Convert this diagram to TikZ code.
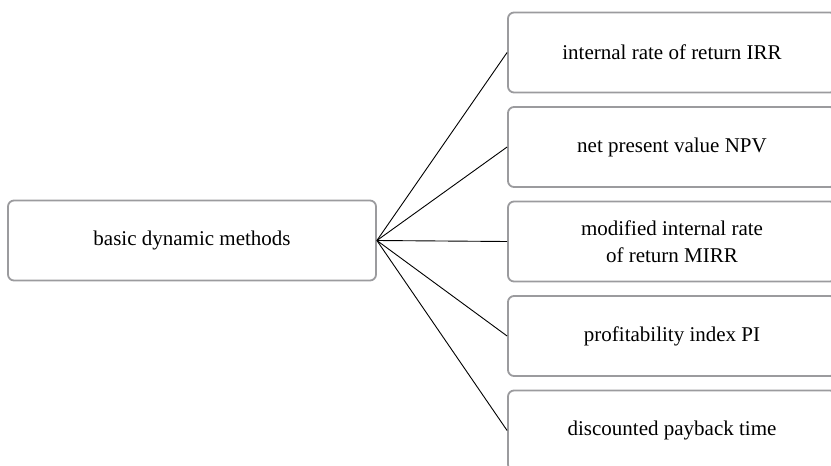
\documentclass[tikz,border=0pt]{standalone}
\usepackage{fontspec}
\setmainfont{Liberation Serif}
\usetikzlibrary{positioning}

\definecolor{boxgray}{RGB}{155,155,158}
\tikzset{
  methodbox/.style={draw=boxgray, line width=1.8pt, rounded corners=6pt,
    minimum width=328pt, minimum height=80pt, align=center,
    font=\fontsize{21}{27}\selectfont},
  rootbox/.style={methodbox, minimum width=368pt},
  branch/.style={line width=0.9pt}
}

\begin{document}
\begin{tikzpicture}[x=1pt,y=1pt]
    % page frame, boxes run over the right and lower edge
    \useasboundingbox (0,0) rectangle (831,-466);
    \clip (0,0) rectangle (831,-466);

    % root
    \node[rootbox] (basic) at (192,-240.5) {basic dynamic methods};

    % methods
    \node[methodbox] (irr) at (672,-52.5) {internal rate of return IRR};
    \node[methodbox, below=12.7pt of irr] (npv) {net present value NPV};
    \node[methodbox, below=12.7pt of npv] (mirr) {modified internal rate\\of return MIRR};
    \node[methodbox, below=12.7pt of mirr] (pi) {profitability index PI};
    \node[methodbox, below=12.7pt of pi] (dpt) {discounted payback time};

    % connectors
    \foreach \m in {irr,npv,mirr,pi,dpt}
        \draw[branch] (basic.east) -- (\m.west);
\end{tikzpicture}
\end{document}
